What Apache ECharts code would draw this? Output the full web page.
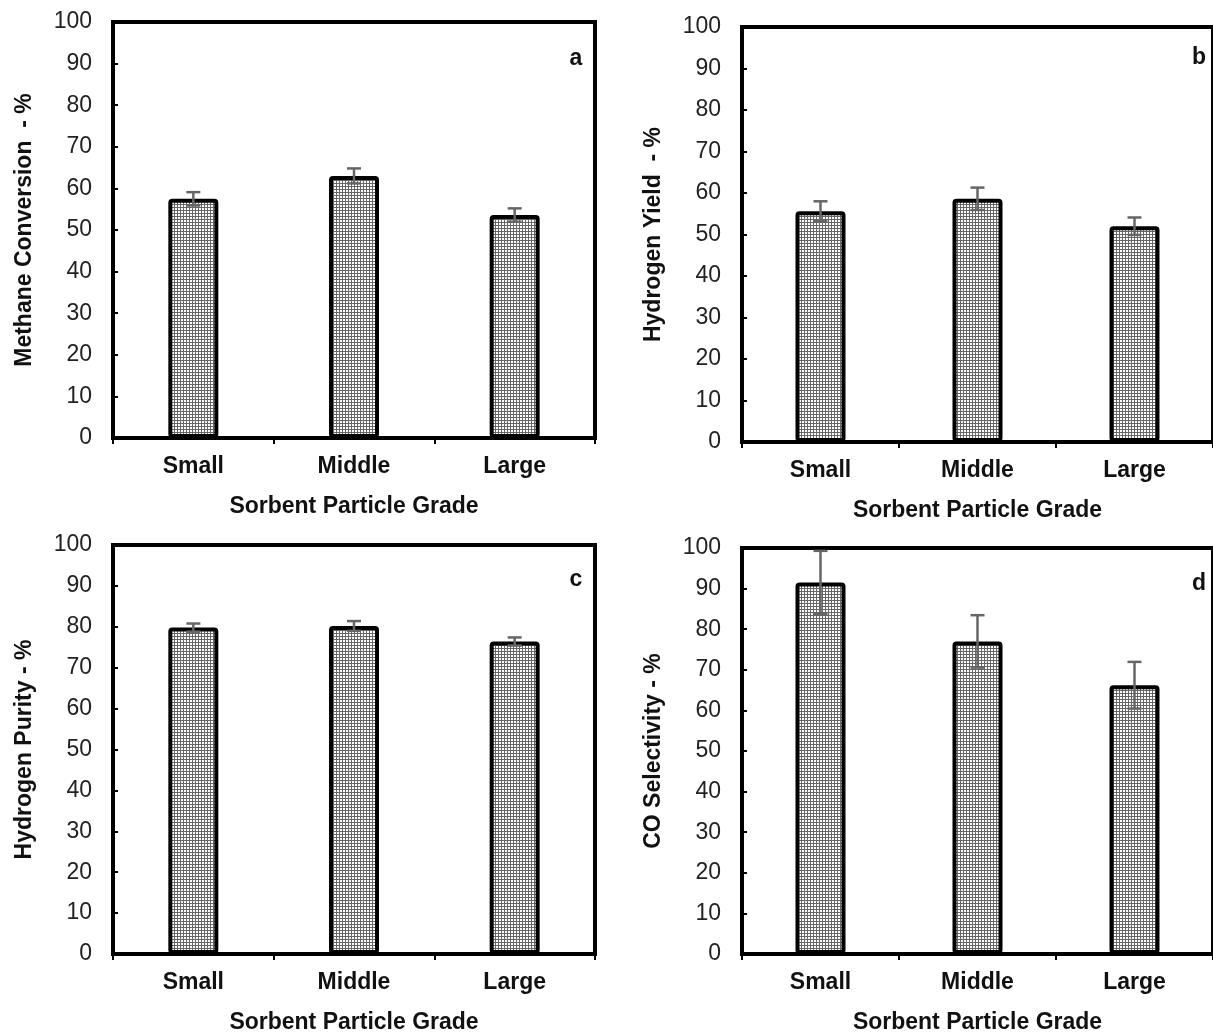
<!DOCTYPE html>
<html>
<head>
<meta charset="utf-8">
<script src="https://cdn.jsdelivr.net/npm/echarts@6/dist/echarts.min.js"></script>
<style>
html,body{margin:0;padding:0;background:#fff;}
#chart{width:1213px;height:1035px;}
</style>
</head>
<body>
<div id="chart"></div>
<script>
// ---- data ----
const categories = ['Small', 'Middle', 'Large'];
const methaneConversion = [57.5, 63.0, 53.6];
const methaneConversionErr = [1.6, 1.8, 1.6];
const hydrogenYield = [55.6, 58.6, 52.0];
const hydrogenYieldErr = [2.4, 2.7, 2.1];
const hydrogenPurity = [79.8, 80.2, 76.4];
const hydrogenPurityErr = [1.0, 1.2, 1.0];
const coSelectivity = [91.5, 77.0, 66.2];
const coSelectivityErr = [7.8, 6.45, 5.75];
const xTitle = 'Sorbent Particle Grade';
const yTitles = ['Methane Conversion  - %', 'Hydrogen Yield  - %', 'Hydrogen Purity - %', 'CO Selectivity - %'];
const panelLetters = ['a', 'b', 'c', 'd'];

// ---- pattern fill for bars ----
function makePattern() {
  const c = document.createElement('canvas');
  c.width = 3; c.height = 3;
  const g = c.getContext('2d');
  g.fillStyle = '#ffffff'; g.fillRect(0, 0, 3, 3);
  g.fillStyle = '#666666';
  g.fillRect(0, 0, 3, 1);
  g.fillRect(0, 0, 1, 3);
  return c;
}
const pattern = { image: makePattern(), repeat: 'repeat' };

const FONT = 'Liberation Sans, Arial, sans-serif';
const grids = [
  { left: 113, top: 22, width: 482, height: 416 },
  { left: 742, top: 27, width: 483, height: 415 },
  { left: 113, top: 545, width: 482, height: 412 },
  { left: 742, top: 548, width: 483, height: 409 }
];
const values = [methaneConversion, hydrogenYield, hydrogenPurity, coSelectivity];
const errs = [methaneConversionErr, hydrogenYieldErr, hydrogenPurityErr, coSelectivityErr];
const letterPos = [[576, 59], [1199, 58], [576, 580], [1199, 584]];

const option = {
  animation: false,
  backgroundColor: '#ffffff',
  grid: grids.map(g => Object.assign({ show: true, borderColor: '#000', borderWidth: 4, backgroundColor: 'transparent' }, g)),
  xAxis: grids.map((g, i) => ({
    type: 'category', gridIndex: i, data: categories,
    boundaryGap: true,
    axisLine: { show: true, lineStyle: { color: '#000', width: 4 } },
    axisTick: { show: true, inside: false, length: 6, lineStyle: { color: '#000', width: 2 } },
    axisLabel: { margin: 17, color: '#111', fontFamily: FONT, fontWeight: 'bold', fontSize: 23 },
    name: xTitle, nameLocation: 'middle', nameGap: 57,
    nameTextStyle: { color: '#111', fontFamily: FONT, fontWeight: 'bold', fontSize: 23 },
    splitLine: { show: false }
  })),
  yAxis: grids.map((g, i) => ({
    type: 'value', gridIndex: i, min: 0, max: 100, interval: 10,
    axisLine: { show: true, lineStyle: { color: '#000', width: 4 } },
    axisTick: { show: true, inside: true, length: 5, lineStyle: { color: '#000', width: 2 } },
    axisLabel: { margin: 21, color: '#222', fontFamily: FONT, fontSize: 23 },
    name: yTitles[i], nameLocation: 'middle', nameGap: 77, nameRotate: 90,
    nameTextStyle: { color: '#111', fontFamily: FONT, fontWeight: 'bold', fontSize: 23 },
    splitLine: { show: false }
  })),
  series: [],
  graphic: panelLetters.map((t, i) => ({
    type: 'text', x: letterPos[i][0], y: letterPos[i][1],
    style: { text: t, fill: '#111', font: 'bold 23px ' + FONT, textAlign: 'center', textVerticalAlign: 'middle' },
    z: 100
  }))
};

values.forEach((vals, i) => {
  option.series.push({
    type: 'bar', xAxisIndex: i, yAxisIndex: i,
    data: vals, barWidth: 50,
    itemStyle: { color: pattern, borderColor: '#000', borderWidth: 4, borderRadius: 2 },
    z: 2
  });
  option.series.push({
    type: 'custom', xAxisIndex: i, yAxisIndex: i,
    data: vals.map((v, k) => [k, v, errs[i][k]]),
    encode: { x: 0, y: 1 },
    z: 5,
    renderItem: function (params, api) {
      const x = api.value(0), v = api.value(1), e = api.value(2);
      const hi = api.coord([x, v + e]);
      const lo = api.coord([x, v - e]);
      const cap = 7;
      const st = { stroke: '#666666', lineWidth: 2.5 };
      return {
        type: 'group',
        children: [
          { type: 'line', shape: { x1: hi[0], y1: hi[1], x2: lo[0], y2: lo[1] }, style: st },
          { type: 'line', shape: { x1: hi[0] - cap, y1: hi[1], x2: hi[0] + cap, y2: hi[1] }, style: st },
          { type: 'line', shape: { x1: lo[0] - cap, y1: lo[1], x2: lo[0] + cap, y2: lo[1] }, style: st }
        ]
      };
    }
  });
});

const chart = echarts.init(document.getElementById('chart'), null, { renderer: 'canvas' });
chart.setOption(option);
</script>
</body>
</html>
